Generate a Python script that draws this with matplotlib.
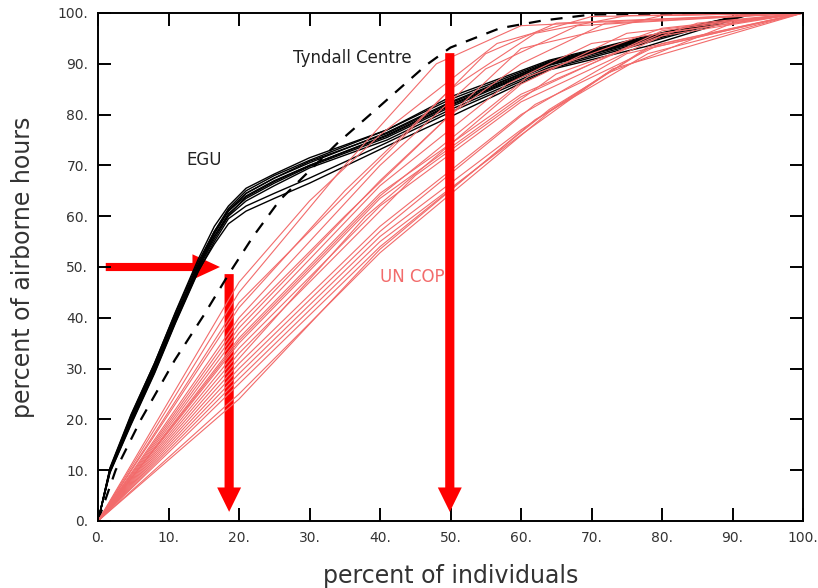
import matplotlib
matplotlib.use("Agg")
import matplotlib.pyplot as plt

# EGU runs (black solid) - shared x nodes
egu_x = [0, 1.7, 4.7, 8, 11, 14.2, 16.5, 18.5, 21, 25, 30, 41, 50, 64, 78, 92, 100]
egu_runs = [
    [0, 10, 20, 30, 40, 50, 56, 60.5, 63.5, 66.5, 69.8, 75.5, 81.5, 89.7, 94.7, 99.7, 100],
    [0, 10.5, 21, 31, 41, 51, 57, 61, 64.5, 67.5, 70.5, 76.5, 82.5, 90.3, 95.2, 99.8, 100],
    [0, 9.5, 19, 29, 39, 49, 55, 59.5, 62, 64.5, 67.5, 74.5, 80.5, 89, 94.2, 99.6, 100],
    [0, 10.2, 20.5, 30.5, 40.5, 50.5, 57, 61.5, 65, 68, 71, 77, 83.5, 90.7, 95.5, 99.8, 100],
    [0, 9.8, 19.5, 29.5, 39.5, 49.5, 55.5, 60, 63, 66, 69.5, 75, 81, 89.3, 94.5, 99.7, 100],
    [0, 10, 20.2, 30.2, 40.2, 50.2, 56.5, 61, 64, 67, 70, 76, 82, 90, 95, 99.8, 100],
    [0, 9.6, 19.2, 29.2, 39.2, 49.2, 54.5, 58.5, 61, 63.5, 66.5, 73.8, 79.6, 88.8, 93.5, 99.5, 100],
    [0, 10.3, 20.8, 31, 41.2, 51.5, 58, 62, 65.5, 68.3, 71.5, 77, 83, 90.5, 95.3, 99.8, 100],
    [0, 9.9, 19.8, 29.8, 39.8, 49.8, 56, 60.2, 63.8, 66.8, 70, 75.8, 81.8, 89.8, 94.9, 99.7, 100],
    [0, 10.1, 20.3, 30.3, 40.3, 50.3, 56.8, 61.2, 64.5, 67.5, 70.8, 76.3, 82.3, 90.2, 95.1, 99.8, 100],
]

# Tyndall Centre (dashed)
tyndall_x = [0, 2.5, 6.1, 10.9, 15, 18.5, 22, 25.8, 29.6, 33.9, 40, 46.6, 50, 57, 63, 70, 100]
tyndall_y = [0, 10, 20, 31.7, 40.5, 48.5, 56, 63.2, 68.4, 74.3, 81.7, 89.8, 93.2, 97, 98.5, 99.7, 100]

# UN COP runs (light red), each a list of (x, y) nodes
uncop_runs = [
    [(0, 0), (20, 47), (30, 63), (40, 76), (56.6, 94), (70, 99.3), (100, 100)],
    [(0, 0), (20, 45), (35, 70), (48, 90), (60, 97.5), (100, 100)],
    [(0, 0), (20, 42), (35, 65), (50, 85), (62, 96), (75, 99.5), (100, 100)],
    [(0, 0), (20, 43), (30, 57), (45, 78), (55, 92), (65, 98), (100, 100)],
    [(0, 0), (20, 40), (40, 70), (55, 89), (68, 97.5), (100, 100)],
    [(0, 0), (20, 39), (35, 60), (50, 80), (60, 90), (72, 98), (100, 100)],
    [(0, 0), (20, 38), (40, 67), (60, 93), (80, 99.5), (100, 100)],
    [(0, 0), (20, 37), (40, 66), (58, 86), (70, 94), (100, 100)],
    [(0, 0), (20, 36), (40, 64.5), (60, 84), (80, 96), (100, 100)],
    [(0, 0), (20, 35.5), (40, 64), (61, 87.5), (80, 97), (100, 100)],
    [(0, 0), (20, 35), (40, 63.5), (60, 83.5), (80, 96.5), (100, 100)],
    [(0, 0), (20, 34), (40, 62), (60, 82.5), (80, 95.5), (100, 100)],
    [(0, 0), (20, 33), (45, 68), (65, 88), (85, 98), (100, 100)],
    [(0, 0), (20, 32), (38, 60), (60, 86), (75, 96), (100, 100)],
    [(0, 0), (20, 31), (40, 58), (60, 80), (75, 92), (100, 100)],
    [(0, 0), (20, 30), (40, 57), (62, 82), (80, 94), (100, 100)],
    [(0, 0), (20, 29), (40, 56), (60, 77), (72, 88), (90, 98), (100, 100)],
    [(0, 0), (20, 28), (40, 55), (60, 76), (73, 89), (100, 100)],
    [(0, 0), (20, 27), (40, 54), (64, 81), (78, 93), (100, 100)],
    [(0, 0), (20, 25), (40, 52.8), (64, 80.5), (78, 93.3), (100, 100)],
    [(0, 0), (20, 24), (40, 53.5), (62, 79), (78, 92), (100, 100)],
]

ticks = [0, 10, 20, 30, 40, 50, 60, 70, 80, 90, 100]
tick_labels = ["0.", "10.", "20.", "30.", "40.", "50.", "60.", "70.", "80.", "90.", "100."]

red_thin = "#f26b6b"
txt = "#333333"

fig = plt.figure(figsize=(8.18, 5.88), dpi=100)
ax = fig.add_axes([98 / 818, 1 - 521 / 588, 705 / 818, 508 / 588])

for ys in egu_runs:
    ax.plot(egu_x, ys, color="black", lw=1.0)

ax.plot(tyndall_x, tyndall_y, color="black", lw=1.6, dashes=(5.4, 4.5))

for run in uncop_runs:
    xs = [p[0] for p in run]
    ys = [p[1] for p in run]
    ax.plot(xs, ys, color=red_thin, lw=0.8)

# big red arrows
ax.arrow(1.1, 50, 16.2, 0, width=1.6, head_width=5.0, head_length=3.9,
         length_includes_head=True, color="#ff0000", lw=0)
ax.arrow(18.6, 48.6, 0, -46.8, width=1.3, head_width=3.4, head_length=4.8,
         length_includes_head=True, color="#ff0000", lw=0)
ax.arrow(49.9, 92.1, 0, -90.3, width=1.3, head_width=3.4, head_length=4.8,
         length_includes_head=True, color="#ff0000", lw=0, zorder=5)

ax.text(27.7, 91.1, "Tyndall Centre", fontsize=12, color="#222222", va="center")
ax.text(12.6, 71.0, "EGU", fontsize=12, color="#222222", va="center")
ax.text(40.0, 48.0, "UN COP", fontsize=12, color=red_thin, va="center", zorder=4)

ax.set_xlim(0, 100)
ax.set_ylim(0, 100)
ax.set_xticks(ticks)
ax.set_xticklabels(tick_labels)
ax.set_yticks(ticks)
ax.set_yticklabels(tick_labels)
ax.tick_params(direction="in", length=9.5, width=1.4, top=True, right=True,
               labelsize=10, labelcolor=txt, pad=7)
for s in ax.spines.values():
    s.set_linewidth(1.4)

ax.set_xlabel("percent of individuals", fontsize=17, color=txt, labelpad=14)
ax.set_ylabel("percent of airborne hours", fontsize=17, color=txt, labelpad=16)

fig.savefig("out.png", dpi=100)
